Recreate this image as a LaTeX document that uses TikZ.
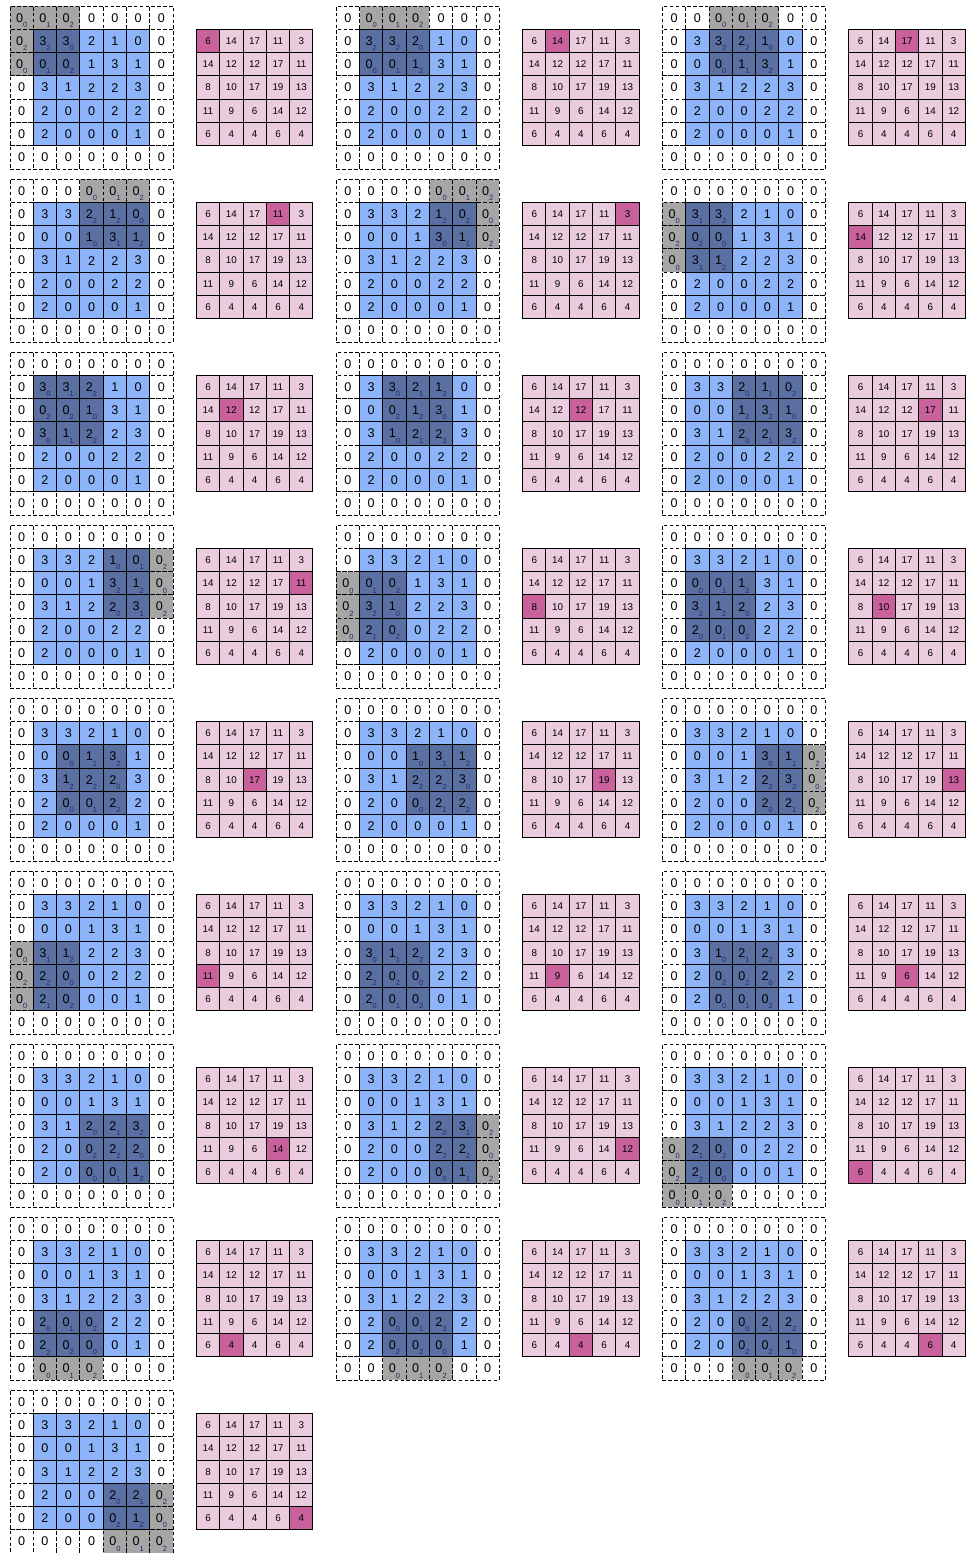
\documentclass[tikz,border=0pt]{standalone}
\usepackage{fontspec}
\setmainfont{Liberation Sans}
\usetikzlibrary{positioning}

\definecolor{inblue}{HTML}{8DB3F8}
\definecolor{kerblue}{HTML}{5A70A2}
\definecolor{kergray}{HTML}{A6A6A6}
\definecolor{outpink}{HTML}{EACCDE}
\definecolor{outhot}{HTML}{C8619C}
\definecolor{subcol}{HTML}{2A2A6A}

% input, kernel and output values, row by row
\def\inputvals{{3,3,2,1,0,0,0,1,3,1,3,1,2,2,3,2,0,0,2,2,2,0,0,0,1}}
\def\kernelvals{{0,1,2,2,2,0,0,1,2}}
\def\outputvals{{6,14,17,11,3,14,12,12,17,11,8,10,17,19,13,11,9,6,14,12,6,4,4,6,4}}
\newcommand{\withsub}[2]{#1\raisebox{-0.8ex}[0pt][0pt]{\fontsize{4.6}{5}\selectfont\color{subcol}#2}}

\begin{document}
\begin{tikzpicture}[x=0.5cm, y=-0.5cm,
    every node/.style={font=\fontsize{7.7}{8}\selectfont, inner sep=0pt, outer sep=0pt,
                       minimum size=0.5cm},
    padcell/.style={draw, dash pattern=on 2.2pt off 1.4pt, line width=0.6pt, fill=white},
    padkern/.style={padcell, fill=kergray},
    incell/.style ={draw, line width=0.6pt, fill=inblue},
    inkern/.style ={incell, fill=kerblue},
    outcell/.style={draw, line width=0.6pt, fill=outpink, font=\fontsize{6}{7}\selectfont},
    outnow/.style ={outcell, fill=outhot}
]
\useasboundingbox (-0.43,-0.26) rectangle (41.03,66.39);

\foreach \k in {0,...,24}{
  \pgfmathtruncatemacro\ki{int(\k/5)}
  \pgfmathtruncatemacro\kj{mod(\k,5)}
  \pgfmathsetmacro\fx{mod(\k,3)*14}
  \pgfmathsetmacro\fy{int(\k/3)*7.425}
  \begin{scope}[shift={(\fx,\fy)}]
    % zero padding
    \foreach \r in {0,...,6}{
      \foreach \c in {0,...,6}{
        \pgfmathtruncatemacro\inside{and(and(\r>0,\r<6),and(\c>0,\c<6))}
        \pgfmathtruncatemacro\under{and(and(\r>\ki-1,\r<\ki+3),and(\c>\kj-1,\c<\kj+3))}
        \ifnum\inside=0
          \ifnum\under=1
            \pgfmathtruncatemacro\kv{\kernelvals[(\r-\ki)*3+\c-\kj]}
            \node[padkern] (f\k-\r-\c) at (\c+0.5,\r+0.5) {\withsub{0}{\kv}};
          \else
            \node[padcell] (f\k-\r-\c) at (\c+0.5,\r+0.5) {0};
          \fi
        \fi
      }
    }
    % input
    \foreach \r in {1,...,5}{
      \foreach \c in {1,...,5}{
        \pgfmathtruncatemacro\under{and(and(\r>\ki-1,\r<\ki+3),and(\c>\kj-1,\c<\kj+3))}
        \pgfmathtruncatemacro\iv{\inputvals[(\r-1)*5+\c-1]}
        \ifnum\under=1
          \pgfmathtruncatemacro\kv{\kernelvals[(\r-\ki)*3+\c-\kj]}
          \node[inkern] (f\k-\r-\c) at (\c+0.5,\r+0.5) {\withsub{\iv}{\kv}};
        \else
          \node[incell] (f\k-\r-\c) at (\c+0.5,\r+0.5) {\iv};
        \fi
      }
    }
    % output
    \foreach \r in {0,...,4}{
      \foreach \c in {0,...,4}{
        \pgfmathtruncatemacro\idx{\r*5+\c}
        \pgfmathtruncatemacro\ov{\outputvals[\idx]}
        \ifnum\idx=\k
          \node[outnow] (o\k-\r-\c) at (\c+8.5,\r+1.5) {\ov};
        \else
          \node[outcell] (o\k-\r-\c) at (\c+8.5,\r+1.5) {\ov};
        \fi
      }
    }
  \end{scope}
}
\end{tikzpicture}
\end{document}
